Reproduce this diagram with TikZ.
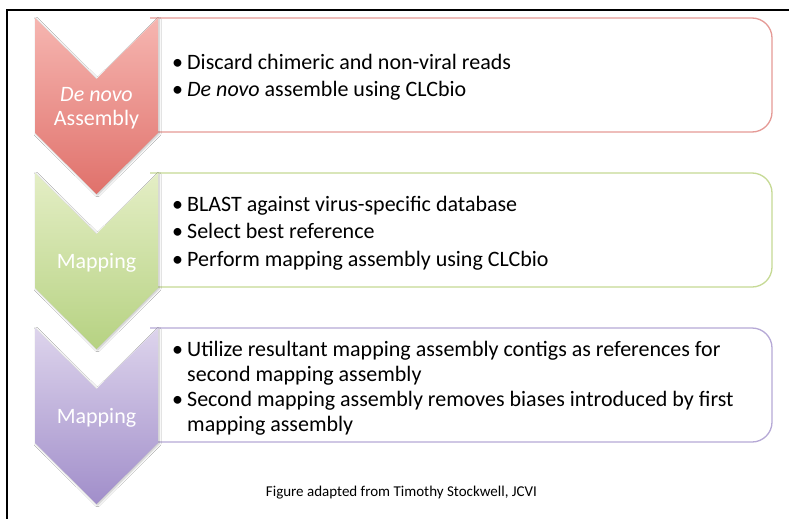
\documentclass[tikz,border=0pt]{standalone}
\usepackage{fontspec}
\usetikzlibrary{shadows.blur}
\setmainfont{Carlito}
\definecolor{redtop}{HTML}{F6B6B1}
\definecolor{redbot}{HTML}{E0716B}
\definecolor{redline}{HTML}{E59A96}
\definecolor{greentop}{HTML}{E4EEC5}
\definecolor{greenbot}{HTML}{B6D282}
\definecolor{greenline}{HTML}{C6DA95}
\definecolor{purpletop}{HTML}{DDD4EC}
\definecolor{purplebot}{HTML}{A18ECA}
\definecolor{purpleline}{HTML}{B6A9D6}
\newcommand\bul{\makebox[15pt][l]{•}}
\newcommand\cont{\hspace*{15pt}}
\tikzset{
  panel/.style={line width=1.3pt, rounded corners=20pt},
  chevron/.style={blur shadow={shadow blur steps=6, shadow xshift=1pt,
    shadow yshift=-1pt, shadow blur radius=2pt, shadow opacity=25}},
  chevlabel/.style={text=white, align=center, inner sep=0pt,
    font=\fontsize{22}{24}\selectfont},
  bullets/.style={anchor=west, align=left, inner sep=0pt, text=black},
}
\begin{document}
\begin{tikzpicture}[x=1pt,y=-1pt]
\useasboundingbox (0,0) rectangle (789,519);
\fill[white] (0,0) rectangle (789,519);
% outer frame
\draw[line width=2pt] (789,10) -- (7,10) -- (7,519);

% row 1
\draw[panel, draw=redline] (150,18) -- (772,18) -- (772,132) -- (150,132);
\shade[chevron, top color=redtop, bottom color=redbot]
  (35,18) -- (96.5,79) -- (158,18) -- (158,133) -- (96.5,194) -- (35,133) -- cycle;
\node[chevlabel] (lab1) at (96.5,108) {\textit{De novo}\\Assembly};
\node[bullets, font=\fontsize{22}{27}\selectfont] (txt1) at (172,77.5)
  {\bul Discard chimeric and non-viral reads\\
   \bul \textit{De novo} assemble using CLCbio};

% row 2
\draw[panel, draw=greenline] (150,173) -- (772,173) -- (772,287) -- (150,287);
\shade[chevron, top color=greentop, bottom color=greenbot]
  (35,173) -- (96.5,234) -- (158,173) -- (158,288) -- (96.5,349) -- (35,288) -- cycle;
\node[chevlabel] (lab2) at (96.5,263) {Mapping};
\node[bullets, font=\fontsize{22}{27.5}\selectfont] (txt2) at (172,233)
  {\bul BLAST against virus-specific database\\
   \bul Select best reference\\
   \bul Perform mapping assembly using CLCbio};

% row 3
\draw[panel, draw=purpleline] (150,328) -- (772,328) -- (772,442) -- (150,442);
\shade[chevron, top color=purpletop, bottom color=purplebot]
  (35,328) -- (96.5,389) -- (158,328) -- (158,443) -- (96.5,504) -- (35,443) -- cycle;
\node[chevlabel] (lab3) at (96.5,418) {Mapping};
\node[bullets, font=\fontsize{22}{25}\selectfont] (txt3) at (172,388.5)
  {\bul Utilize resultant mapping assembly contigs as references for\\
   \cont second mapping assembly\\
   \bul Second mapping assembly removes biases introduced by first\\
   \cont mapping assembly};

% caption
\node[font=\fontsize{15}{17}\selectfont, inner sep=0pt] (cap) at (401.5,493)
  {Figure adapted from Timothy Stockwell, JCVI};
\end{tikzpicture}
\end{document}
